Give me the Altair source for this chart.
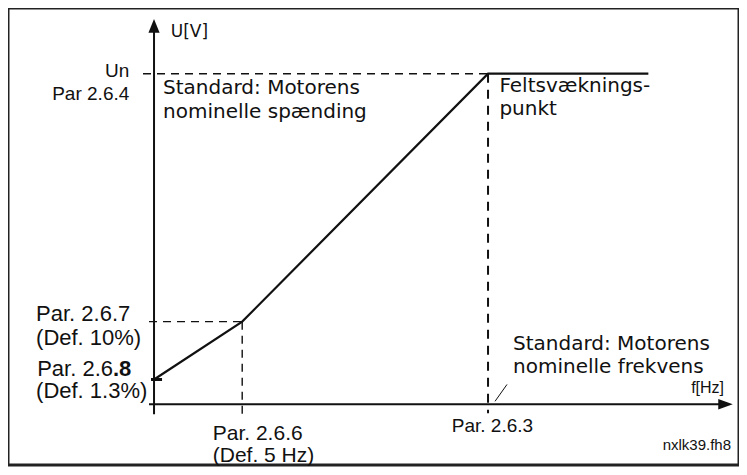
import altair as alt
import pandas as pd

# ---- data (schematic units: f in "Hz", U in % of Un) ----
curve_f = [0, 13.2, 50, 74]
curve_u = [7.5, 25, 100, 100]

# dashed guide lines (start/end): thin ones
guide_f1 = [-1.65, -0.75, 13.2]
guide_u1 = [100, 25, 25]
guide_f2 = [50, 13.2, 13.2]
guide_u2 = [100, 25, -4.2]

# heavier dashed guide at the field weakening point
fwp_f1 = [50]
fwp_u1 = [100]
fwp_f2 = [50]
fwp_u2 = [-2.7]

# axis lines
axis_f1 = [-0.75, 0]
axis_u1 = [0, -3.0]
axis_f2 = [85.0, 0]
axis_u2 = [0, 114.0]

# arrow heads
arrow_f = [85.55, 0]
arrow_u = [0, 114.46]

# labels ("\n" separates lines of one label)
label_text = ["U[V]", "Un", "Par 2.6.4", "Standard: Motorens\nnominelle spænding",
              "Feltsvæknings-\npunkt", "Par. 2.6.7", "(Def. 10%)", "Par. 2.6", ".8",
              "(Def. 1.3%)", "Par. 2.6.6", "(Def. 5 Hz)", "Par. 2.6.3",
              "Standard: Motorens\nnominelle frekvens", "f[Hz]", "nxlk39.fh8"]

# ---- layout (first-line baseline positions in data units, styles) ----
label_f = [2.5, -3.7, -3.7, 1.35, 51.7, -17.66, -17.66, -6.14, -6.14,
           -17.66, 8.79, 8.79, 44.57, 53.74, 85.33, 86.38]
label_u = [111.05, 99.0, 91.96, 93.83, 94.58, 25.09, 18.07, 8.64, 8.64,
           1.81, -10.75, -17.47, -8.43, 16.42, 3.31, -13.77]
DV, LS = "DejaVu Sans", "Liberation Sans"
label_style = [  # align, font, size, weight, line height
    ("left", DV, 17, "normal", 20), ("right", LS, 19, "normal", 20),
    ("right", LS, 19, "normal", 20),
    ("left", DV, 20, "normal", 23.5),
    ("left", DV, 20, "normal", 23.5),
    ("left", LS, 22, "normal", 22), ("left", LS, 22, "normal", 22),
    ("right", LS, 22, "normal", 22), ("left", LS, 22, "bold", 22),
    ("left", LS, 22, "normal", 22),
    ("left", LS, 21, "normal", 21), ("left", LS, 21, "normal", 21),
    ("left", LS, 19, "normal", 19),
    ("left", DV, 20, "normal", 23.5),
    ("right", LS, 16, "normal", 16), ("right", LS, 15, "normal", 15),
]

X_DOMAIN = [-21.86, 87.57]
Y_DOMAIN = [-18.37, 119.88]
xs = alt.Scale(domain=X_DOMAIN, nice=False, zero=False)
ys = alt.Scale(domain=Y_DOMAIN, nice=False, zero=False)
INK = "#111111"

def X(field):
    return alt.X(f"{field}:Q", scale=xs, axis=None)

def Y(field):
    return alt.Y(f"{field}:Q", scale=ys, axis=None)

layers = []

# dashed guides
gdf = pd.DataFrame({"f1": guide_f1, "u1": guide_u1, "f2": guide_f2, "u2": guide_u2})
layers.append(alt.Chart(gdf).mark_rule(color=INK, strokeWidth=1.4, strokeDash=[8, 6]).encode(
    x=X("f1"), y=Y("u1"), x2="f2:Q", y2="u2:Q"))
fdf = pd.DataFrame({"f1": fwp_f1, "u1": fwp_u1, "f2": fwp_f2, "u2": fwp_u2})
layers.append(alt.Chart(fdf).mark_rule(color=INK, strokeWidth=2, strokeDash=[9, 7]).encode(
    x=X("f1"), y=Y("u1"), x2="f2:Q", y2="u2:Q"))

# axes
adf = pd.DataFrame({"f1": axis_f1, "u1": axis_u1, "f2": axis_f2, "u2": axis_u2})
layers.append(alt.Chart(adf).mark_rule(color=INK, strokeWidth=2).encode(
    x=X("f1"), y=Y("u1"), x2="f2:Q", y2="u2:Q"))

# arrow heads
ardf = pd.DataFrame({"f": [arrow_f[0]], "u": [arrow_u[0]]})
layers.append(alt.Chart(ardf).mark_point(
    shape="M1,0L-1,0.72L-1,-0.72Z", size=210, filled=True, color=INK, opacity=1).encode(
    x=X("f"), y=Y("u")))
audf = pd.DataFrame({"f": [arrow_f[1]], "u": [arrow_u[1]]})
layers.append(alt.Chart(audf).mark_point(
    shape="M0,-1L0.82,1L-0.82,1Z", size=185, filled=True, color=INK, opacity=1).encode(
    x=X("f"), y=Y("u")))

# start tick on U axis
tdf = pd.DataFrame({"f1": [-0.45], "f2": [1.2], "u": [curve_u[0]]})
layers.append(alt.Chart(tdf).mark_rule(color=INK, strokeWidth=3).encode(
    x=X("f1"), x2="f2:Q", y=Y("u")))

# small pointer slash
sdf = pd.DataFrame({"f1": [51.05], "u1": [0.9], "f2": [52.84], "u2": [6.0]})
layers.append(alt.Chart(sdf).mark_rule(color=INK, strokeWidth=1).encode(
    x=X("f1"), y=Y("u1"), x2="f2:Q", y2="u2:Q"))

# V/f curve
cdf = pd.DataFrame({"f": curve_f, "u": curve_u, "i": range(len(curve_f))})
layers.append(alt.Chart(cdf).mark_line(color=INK, strokeWidth=2.2).encode(
    x=X("f"), y=Y("u"), order="i:Q"))

# labels
for t, fx, uy, (al, fn, sz, wt, lh) in zip(label_text, label_f, label_u, label_style):
    ldf = pd.DataFrame({"f": [fx], "u": [uy], "t": [t]})
    layers.append(alt.Chart(ldf).mark_text(
        align=al, baseline="alphabetic", font=fn, fontSize=sz, fontWeight=wt,
        lineBreak="\n", lineHeight=lh, color=INK).encode(
        x=X("f"), y=Y("u"), text="t:N"))

chart = alt.layer(*layers).properties(
    width=731, height=459,
    autosize=alt.AutoSizeParams(type="fit", contains="padding"),
    padding=0,
    background="white",
).configure_view(stroke="#222222", strokeWidth=3)

chart.save("out.html", embed_options={"renderer": "svg", "actions": False})
